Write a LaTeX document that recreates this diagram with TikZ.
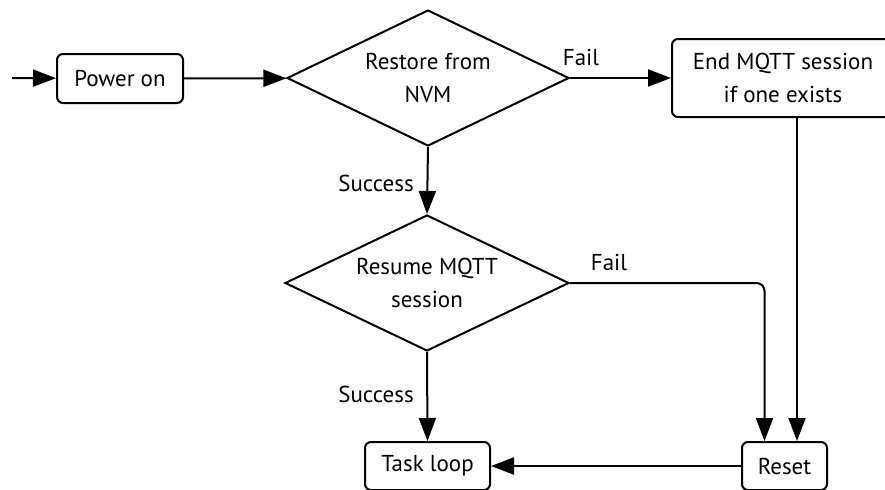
\documentclass[tikz,border=0pt]{standalone}
\usepackage{fontspec}
\setmainfont{PT Sans}
\usetikzlibrary{shapes.geometric,arrows.meta}

\tikzset{
  block/.style={draw, rounded corners=3pt, line width=1pt, align=center, inner sep=0pt},
  decision/.style={draw, diamond, aspect=2.07, line width=1pt, align=center, inner sep=0pt},
  flow/.style={line width=1pt, -{Triangle[length=11.5pt,width=8.5pt]}},
}

\begin{document}
\begin{tikzpicture}[x=0.5pt,y=-0.5pt,font=\fontsize{11.5}{16.5}\selectfont]
 \useasboundingbox (0,0) rectangle (885,489);

 % boxes
 \coordinate (in) at (12,78);
 \node[block, minimum width=63pt, minimum height=24.5pt] (power) at (120,78.5) {Power on};
 \node[decision, minimum width=141pt, minimum height=68pt] (restore) at (428,78) {Restore from\\NVM};
 \node[block, minimum width=111pt, minimum height=39pt] (endsession) at (783,78) {End MQTT session\\if one exists};
 \node[decision, minimum width=142pt, minimum height=68pt] (resume) at (427,283) {Resume MQTT\\session};
 \node[block, minimum width=62.5pt, minimum height=24pt] (task) at (427.5,466) {Task loop};
 \node[block, minimum width=42.5pt, minimum height=24pt] (reset) at (784.5,466) {Reset};

 % labels
 \node (fail1) at (581,57) {Fail};
 \node (success1) at (376,183) {Success};
 \node (fail2) at (609,262) {Fail};
 \node (success2) at (376,394) {Success};

 % connectors
 \draw[flow] (in) -- (power);
 \draw[flow] (power) -- (restore);
 \draw[flow] (restore.east) -- (endsession.west);
 \draw[flow] (restore.south) -- (resume.north);
 \draw[flow] (resume.south) -- (task.north);
 \draw[flow, rounded corners=4pt] (resume.east) -- ([xshift=-10pt]reset.north |- resume.east) -- ([xshift=-10pt]reset.north);
 \draw[flow] ([xshift=7pt]endsession.south) -- ([xshift=7pt]endsession.south |- reset.north);
 \draw[flow] (reset.west) -- (task.east);
\end{tikzpicture}
\end{document}
